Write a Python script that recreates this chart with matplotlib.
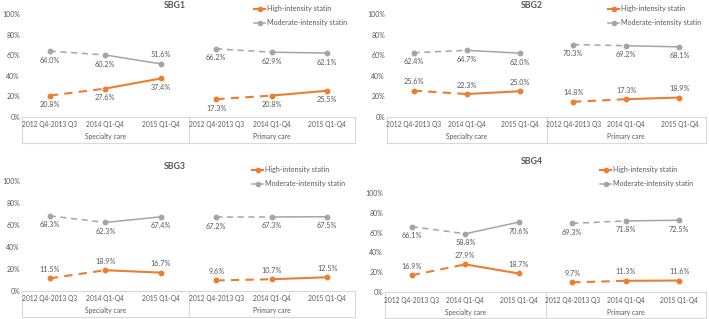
import numpy as np
import matplotlib.pyplot as plt
from matplotlib.lines import Line2D

periods = ["2012 Q4-2013 Q3", "2014 Q1-Q4", "2015 Q1-Q4"]
groups = ["Specialty care", "Primary care"]
titles = ["SBG1", "SBG2", "SBG3", "SBG4"]

# values in %, order: specialty (3 periods) then primary (3 periods)
high = [
    [20.8, 27.6, 37.4, 17.3, 20.8, 25.5],
    [25.6, 22.3, 25.0, 14.8, 17.3, 18.9],
    [11.5, 18.9, 16.7, 9.6, 10.7, 12.5],
    [16.9, 27.9, 18.7, 9.7, 11.3, 11.6],
]
moderate = [
    [64.0, 60.2, 51.6, 66.2, 62.9, 62.1],
    [62.4, 64.7, 62.0, 70.3, 69.2, 68.1],
    [68.3, 62.3, 67.4, 67.2, 67.3, 67.5],
    [66.1, 58.8, 70.6, 69.3, 71.8, 72.5],
]
# label side: +1 above, -1 below
high_side = [[-1] * 6, [1] * 6, [1] * 6, [1] * 6]
mod_side = [[-1, -1, 1, -1, -1, -1], [-1] * 6, [-1] * 6, [-1] * 6]

ORANGE = "#ED7D31"
GRAY = "#A5A5A5"
TXT = "#595959"
AXC = "#D9D9D9"
FONT = "Lato"

W, H = 709, 319
fig = plt.figure(figsize=(W / 100, H / 100), dpi=100)
fig.patch.set_facecolor("white")

# pixel boxes: left, top (100%), right, baseline (0%), measured from top-left
boxes = [
    (22, 14, 355, 117),
    (387, 14, 706, 117),
    (22, 181, 355, 291),
    (385, 193, 706, 292),
]
title_pos = [(175, 5), (532, 5), (175, 166), (532, 161)]
legend_pos = [(254, 5), (608, 5), (252, 166), (600, 166)]


def px_axes(l, t, r, b):
    return fig.add_axes([l / W, 1 - b / H, (r - l) / W, (b - t) / H])


def series(ax, vals, sides, color, lw):
    x = np.arange(6)
    v = np.array(vals) / 100
    for g in range(2):
        i = g * 3
        ax.plot(x[i:i + 2], v[i:i + 2], color=color, lw=lw, ls=(0, (4, 3)))
        ax.plot(x[i + 1:i + 3], v[i + 1:i + 3], color=color, lw=lw, ls="-")
    ax.plot(x, v, ls="none", marker="o", ms=3.2, color=color, clip_on=False)
    for xi, vi, s in zip(x, v, sides):
        ax.annotate(f"{vi * 100:.1f}%", (xi, vi), xytext=(0, 6.5 * s), textcoords="offset points",
                    ha="center", va="center", fontsize=5.2, color=TXT, family=FONT)


for k in range(4):
    l, t, r, b = boxes[k]
    ax = px_axes(l, t, r, b)
    ax.set_xlim(-0.5, 5.5)
    ax.set_ylim(0, 1)
    for s in ax.spines.values():
        s.set_visible(False)
    ax.set_yticks(np.arange(0, 1.01, 0.2))
    ax.set_yticklabels([f"{int(round(v * 100))}%" for v in np.arange(0, 1.01, 0.2)],
                       fontsize=5.0, color=TXT, family=FONT)
    ax.tick_params(axis="y", length=0, pad=1.5)
    ax.set_xticks([])

    series(ax, moderate[k], mod_side[k], GRAY, 1.1)
    series(ax, high[k], high_side[k], ORANGE, 1.5)

    # multi-level category axis
    tr = ax.get_xaxis_transform()
    depth = 26 / (b - t)
    ax.plot([-0.5, 5.5], [0, 0], color=AXC, lw=0.8, transform=tr, clip_on=False)
    ax.plot([-0.5, 5.5], [-depth, -depth], color=AXC, lw=0.8, transform=tr, clip_on=False)
    for xv in (-0.5, 2.5, 5.5):
        ax.plot([xv, xv], [0, -depth], color=AXC, lw=0.8, transform=tr, clip_on=False)
    for i in range(6):
        ax.text(i, -8 / (b - t), periods[i % 3], transform=tr, ha="center", va="center",
                fontsize=4.8, color=TXT, family=FONT)
    for g in range(2):
        ax.text(g * 3 + 1, -20 / (b - t), groups[g], transform=tr, ha="center", va="center",
                fontsize=4.9, color=TXT, family=FONT)

    tx, ty = title_pos[k]
    fig.text(tx / W, 1 - ty / H, titles[k], ha="center", va="center", fontsize=6.3,
             fontweight="bold", color=TXT, family=FONT)

    handles = [
        Line2D([], [], color=ORANGE, lw=1.5, marker="o", ms=3),
        Line2D([], [], color=GRAY, lw=1.1, marker="o", ms=3),
    ]
    lx, ly = legend_pos[k]
    fig.legend(handles, ["High-intensity statin", "Moderate-intensity statin"],
               loc="upper left", bbox_to_anchor=(lx / W, 1 - ly / H), frameon=False,
               prop={"family": FONT, "size": 5.1}, labelcolor=TXT, handlelength=1.6,
               handletextpad=0.2, labelspacing=1.0, borderaxespad=0, borderpad=0,
               markerscale=1)

fig.savefig("out.png", dpi=100)
